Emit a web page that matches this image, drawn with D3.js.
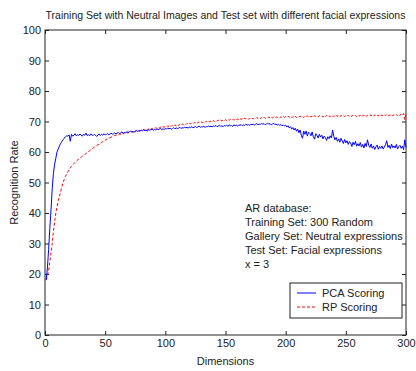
<!DOCTYPE html>
<html><head><meta charset="utf-8">
<script src="https://cdn.jsdelivr.net/npm/d3@7/dist/d3.min.js"></script>
<style>
html,body{margin:0;padding:0;background:#fff;}
svg{display:block;font-family:"Liberation Sans",Arial,sans-serif;}
</style></head>
<body><svg id="c" width="416" height="371"></svg>
<script>
const title = "Training Set with Neutral Images and Test set with different facial expressions";
const xLabel = "Dimensions";
const yLabel = "Recognition Rate";
const xTicks = [0, 50, 100, 150, 200, 250, 300];
const yTicks = [0, 10, 20, 30, 40, 50, 60, 70, 80, 90, 100];
const seriesNames = ["PCA Scoring", "RP Scoring"];
const notes = ["AR database:", "Training Set: 300 Random", "Gallery Set: Neutral expressions", "Test Set: Facial expressions", "x = 3"];

const pcaValues = [
18,22,28,35,41,48,53,56,58,60,
61,62,62.8,63.5,64,64.5,65,65.3,65.2,65.6,
63.5,65.8,65.2,65.5,66,65.3,65.7,65.4,65.9,65.5,
65.2,65.8,65.5,66.2,65.4,65.7,65.3,65.9,65.6,65.4,
65.8,65.5,65.1,65.6,65.9,65.4,65.8,65.5,66,65.6,
65.7,66.1,65.6,65.9,66.2,65.8,66,66.3,65.9,66.2,
66.4,66,66.3,66.6,66.1,66.5,66.2,66.7,66.4,66.6,
66.9,66.5,66.8,66.4,66.9,67.1,66.7,67,66.8,67.2,
66.9,67.3,67,67.2,66.8,67.4,67.1,67.3,67.5,67.1,
67.4,67.2,67.6,67.3,67.5,67.8,67.3,67.6,67.4,67.7,
67.5,67.9,67.6,67.8,67.4,67.7,68,67.6,67.9,67.7,
67.8,68.1,67.7,68,67.8,68.2,67.9,68.1,67.8,68.2,
68,68.3,67.9,68.1,68.4,68,68.2,68.5,68.1,68.3,
68.2,68.5,68,68.4,68.2,68.6,68.3,68.5,68.2,68.6,
68.4,68.7,68.3,68.5,68.8,68.4,68.6,68.3,68.7,68.5,
68.8,68.4,68.9,68.6,68.7,68.4,68.9,68.6,68.8,68.5,
68.9,68.7,69,68.6,68.9,68.7,69.1,68.8,69,68.7,
69.1,68.9,69.2,68.8,69.1,69.3,68.9,69.2,69,69.4,
69.1,69.3,68.9,69.2,69.5,69.1,69.3,68.9,69.2,69.4,
69,69.2,68.8,69.1,68.7,69,68.6,68.9,68.5,68.8,
68.2,68.6,67.9,68.3,67.5,68,67.2,67.8,66.8,67.5,
66.3,67.2,65.5,64.5,66.8,65.8,66.9,65.2,66.5,66.1,
65.3,66.6,65,64.2,66,65.4,64.6,65.8,64.9,65.5,
64.3,65.2,64.7,63.8,65,64.4,65.3,64.6,67.2,65.1,
64,64.8,63.5,64.3,63.2,64.5,63.6,62.8,64.1,63,
63.7,62.5,63.4,62.9,61.8,63.2,62.4,63.5,61.9,62.7,
62,63.1,61.6,62.5,61.3,62.8,61.8,64,62.2,61.5,
62.6,61.2,62,60.8,61.7,62.3,60.9,61.8,61.2,62,
61,61.6,62.4,63.7,61.5,62.2,61.1,62.6,61.4,62,
61.3,62.5,61,61.8,62.2,61.2,61.9,60.8,64,61.5
];
const rpValues = [
18,19.5,21,24,27,30,34,37,40,42,
44,45.5,47,48.5,50,51,52,52.8,53.5,54.2,
54.8,55.3,55.7,56.2,56.6,57,57.3,57.7,58,58.3,
58.6,58.9,59.2,59.5,59.8,60.1,60.4,60.7,61,61.3,
61.6,61.9,62.1,62.4,62.6,62.9,63.1,63.4,63.6,63.9,
64.1,64.3,64.5,64.7,64.9,65.1,65.2,65.4,65.5,65.7,
65.6,65.9,65.8,66.1,65.9,66.3,66.1,66.4,66.2,66.5,
66.4,66.7,66.5,66.9,66.6,67,66.8,67.1,66.9,67.2,
67,67.4,67.1,67.5,67.2,67.6,67.4,67.7,67.5,67.8,
67.6,68,67.7,68.1,67.8,68.2,68,68.3,68.1,68.4,
68.2,68.6,68.3,68.7,68.4,68.8,68.5,68.9,68.6,69,
68.7,69.1,68.8,69.2,68.9,69.3,69,69.4,69.1,69.4,
69.2,69.6,69.3,69.7,69.4,69.7,69.5,69.9,69.5,69.8,
69.6,70,69.7,70.1,69.8,70.1,69.9,70.2,69.9,70.3,
70,70.3,70.1,70.4,70.1,70.5,70.2,70.5,70.3,70.6,
70.3,70.7,70.4,70.7,70.5,70.8,70.4,70.9,70.6,70.8,
70.6,71,70.7,70.9,70.6,71.1,70.8,71,70.7,71.1,
70.9,71.2,70.8,71.1,70.9,71.3,71,71.2,70.9,71.3,
71.1,71.4,71,71.3,71.1,71.5,71.2,71.4,71.1,71.5,
71.2,71.5,71.3,71.6,71.2,71.5,71.3,71.7,71.4,71.6,
71.3,71.7,71.4,71.6,71.2,71.6,71.4,71.8,71.3,71.6,
71.4,71.8,71.5,71.7,71.3,71.7,71.5,71.9,71.4,71.7,
71.5,71.8,71.4,71.9,71.6,71.8,71.5,71.9,71.6,71.8,
71.4,71.9,71.6,72,71.5,71.8,71.6,72,71.5,71.9,
71.6,72,71.7,71.9,71.5,72,71.7,71.9,71.6,72,
71.7,72.1,71.6,71.9,71.7,72.1,71.8,72,71.6,72.1,
71.8,72,71.6,72.1,71.8,72.2,71.7,72,71.8,72.2,
71.9,72.1,71.7,72.2,71.9,72.1,71.8,72.3,71.9,72.1,
71.8,72.2,71.9,72.3,71.8,72.1,72,72.4,71.9,72.2,
72,72.3,71.9,72.4,72,72.5,72.1,72.6,70.6,72.4
];
const dims = d3.range(1, pcaValues.length + 1);

const W = 416, H = 371;
const m = {left: 45, right: 10, top: 30, bottom: 36};
const x = d3.scaleLinear().domain([0, 300]).range([m.left, W - m.right]);
const y = d3.scaleLinear().domain([0, 100]).range([H - m.bottom, m.top]);
const svg = d3.select("#c");
svg.append("rect").attr("width", W).attr("height", H).attr("fill", "#fff");

const fs = "11px";
const gx = svg.append("g").attr("transform", `translate(0,${y(0)})`)
  .call(d3.axisBottom(x).tickValues(xTicks).tickSizeInner(-4).tickSizeOuter(0).tickPadding(4));
const gy = svg.append("g").attr("transform", `translate(${x(0)},0)`)
  .call(d3.axisLeft(y).tickValues(yTicks).tickSizeInner(-4).tickSizeOuter(0).tickPadding(4));
const gt = svg.append("g").attr("transform", `translate(0,${y(100)})`)
  .call(d3.axisTop(x).tickValues(xTicks).tickSizeInner(-4).tickSizeOuter(0).tickFormat(""));
const gr = svg.append("g").attr("transform", `translate(${x(300)},0)`)
  .call(d3.axisRight(y).tickValues(yTicks).tickSizeInner(-4).tickSizeOuter(0).tickFormat(""));
[gx, gy, gt, gr].forEach(g => {
  g.select(".domain").remove();
  g.selectAll(".tick line").attr("stroke", "#222");
  g.selectAll("text").attr("font-size", fs).attr("fill", "#222").attr("font-family", "Liberation Sans, Arial, sans-serif");
});
svg.append("rect").attr("x", x(0)).attr("y", y(100)).attr("width", x(300) - x(0)).attr("height", y(0) - y(100))
  .attr("fill", "none").attr("stroke", "#222").attr("stroke-width", 1);

const line = d3.line().x((d, i) => x(dims[i])).y(d => y(d));
svg.append("path").datum(rpValues).attr("d", line).attr("fill", "none")
  .attr("stroke", "#ff0000").attr("stroke-width", 1).attr("stroke-dasharray", "3,2");
svg.append("path").datum(pcaValues).attr("d", line).attr("fill", "none")
  .attr("stroke", "#0000ff").attr("stroke-width", 1);

svg.append("text").attr("x", (x(0) + x(300)) / 2).attr("y", 19).attr("text-anchor", "middle")
  .attr("font-size", "10.5px").attr("fill", "#222").text(title);
svg.append("text").attr("x", (x(0) + x(300)) / 2).attr("y", 365).attr("text-anchor", "middle")
  .attr("font-size", fs).attr("fill", "#222").text(xLabel);
svg.append("text").attr("transform", `translate(18,${(y(0) + y(100)) / 2}) rotate(-90)`).attr("text-anchor", "middle")
  .attr("font-size", fs).attr("fill", "#222").text(yLabel);

notes.forEach((t, i) => {
  svg.append("text").attr("x", 245).attr("y", 212 + i * 14).attr("font-size", "11px").attr("fill", "#222").text(t);
});

const lg = svg.append("g");
lg.append("rect").attr("x", 290).attr("y", 283).attr("width", 112).attr("height", 35)
  .attr("fill", "#fff").attr("stroke", "#222");
const lcolors = ["#0000ff", "#ff0000"];
const ldash = [null, "3,2"];
seriesNames.forEach((n, i) => {
  const yy = 293 + i * 14;
  lg.append("line").attr("x1", 297).attr("x2", 316).attr("y1", yy).attr("y2", yy)
    .attr("stroke", lcolors[i]).attr("stroke-dasharray", ldash[i]);
  lg.append("text").attr("x", 322).attr("y", yy + 4).attr("font-size", "11px").attr("fill", "#222").text(n);
});
</script></body></html>
